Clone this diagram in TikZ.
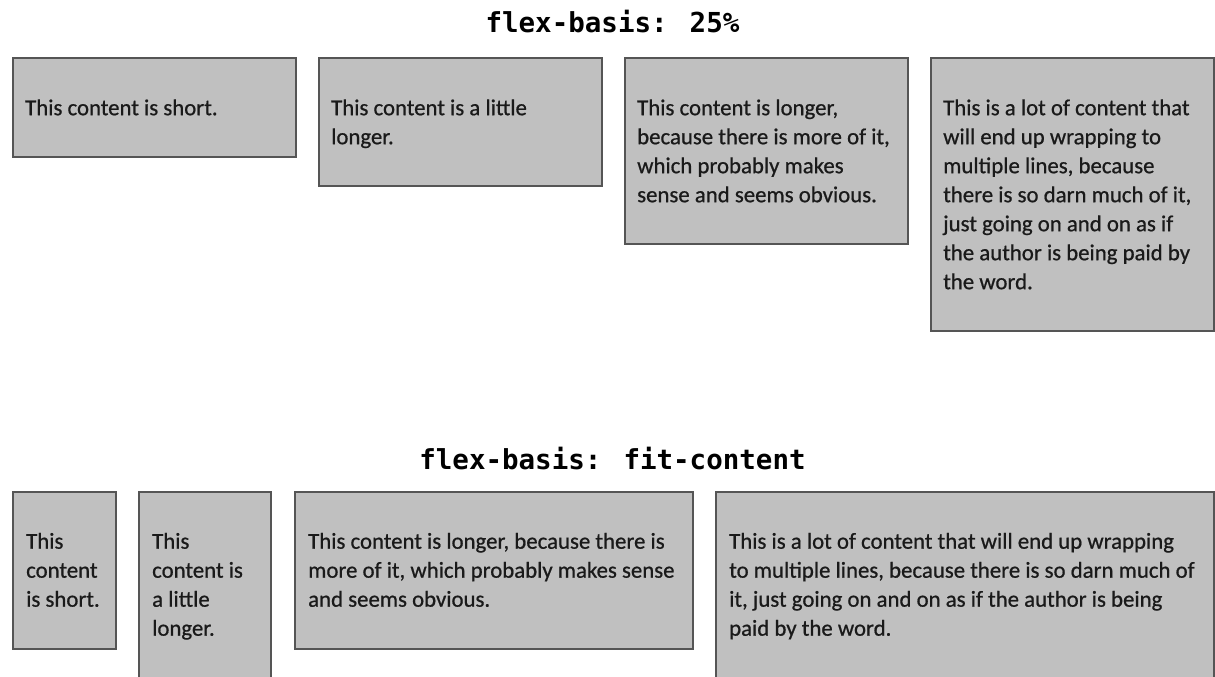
\documentclass[tikz,border=0pt]{standalone}
\usepackage{fontspec}
\setmainfont{Carlito}
\newfontfamily\bodyfont{Carlito}[BoldFont=Carlito, BoldFeatures={FakeBold=0.7}]
\newfontfamily\codefont{DejaVu Sans Mono}
\usetikzlibrary{calc}
\definecolor{boxfill}{HTML}{C0C0C0}
\definecolor{boxline}{HTML}{555555}
\definecolor{textcol}{HTML}{1A1A1A}
\newcommand{\fst}{\rule{0pt}{20pt}}
\begin{document}
\begin{tikzpicture}[x=1pt,y=-1pt,
  heading/.style={anchor=base, inner sep=0pt, font=\codefont\bfseries\fontsize{27.5}{30}\selectfont, text=black},
  cell/.style={draw=boxline, fill=boxfill, line width=1.6pt, anchor=north west, inner sep=0pt},
  txt/.style={anchor=north west, inner sep=0pt, align=left, font=\bodyfont\bfseries\fontsize{22.8}{29}\selectfont, text=textcol}]
\useasboundingbox (0,0) rectangle (1215,677);

\node[heading] (h1) at (612.5,33) {flex-basis: 25\%};

\node[cell, minimum width=283pt, minimum height=99pt]  (a1) at (12,57) {};
\node[cell, minimum width=283pt, minimum height=128pt] (a2) at (318,57) {};
\node[cell, minimum width=283pt, minimum height=186pt] (a3) at (624,57) {};
\node[cell, minimum width=283pt, minimum height=273pt] (a4) at (930,57) {};

\node[txt] (ta1) at ($(a1.north west)+(13,38)$) {\fst This content is short.};
\node[txt] (ta2) at ($(a2.north west)+(13,38)$) {\fst This content is a little\\longer.};
\node[txt] (ta3) at ($(a3.north west)+(13,38)$) {\fst This content is longer,\\because there is more of it,\\which probably makes\\sense and seems obvious.};
\node[txt] (ta4) at ($(a4.north west)+(13,38)$) {\fst This is a lot of content that\\will end up wrapping to\\multiple lines, because\\there is so darn much of it,\\just going on and on as if\\the author is being paid by\\the word.};

\node[heading] (h2) at (612.5,469) {flex-basis: fit-content};

\node[cell, minimum width=103pt, minimum height=157pt] (b1) at (12,491) {};
\node[cell, minimum width=132pt, minimum height=186pt] (b2) at (138,491) {};
\node[cell, minimum width=398pt, minimum height=157pt] (b3) at (294,491) {};
\node[cell, minimum width=498pt, minimum height=186pt] (b4) at (715,491) {};

\node[txt] (tb1) at ($(b1.north west)+(14,37.5)$) {\fst This\\content\\is short.};
\node[txt] (tb2) at ($(b2.north west)+(14,37.5)$) {\fst This\\content is\\a little\\longer.};
\node[txt] (tb3) at ($(b3.north west)+(14,37.5)$) {\fst This content is longer, because there is\\more of it, which probably makes sense\\and seems obvious.};
\node[txt] (tb4) at ($(b4.north west)+(14,37.5)$) {\fst This is a lot of content that will end up wrapping\\to multiple lines, because there is so darn much of\\it, just going on and on as if the author is being\\paid by the word.};
\end{tikzpicture}
\end{document}
